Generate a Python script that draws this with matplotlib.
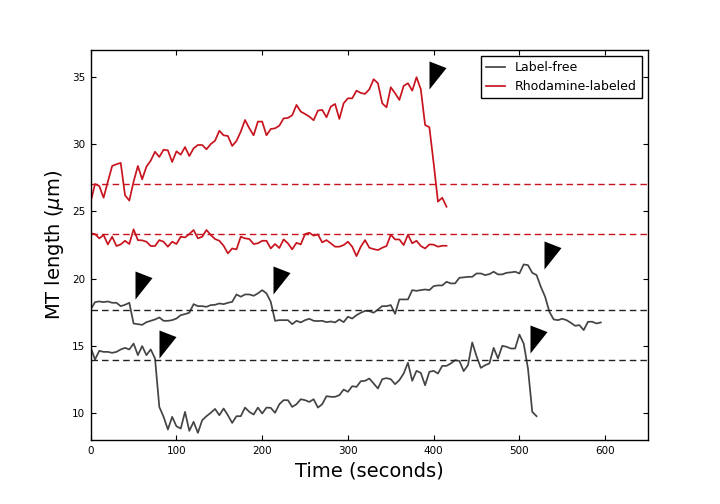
import matplotlib
matplotlib.use("Agg")
import matplotlib.pyplot as plt
from matplotlib.path import Path
import numpy as np

# intervalo entre cuadros (s)
frame_dt = 5

# longitud de los microtubulos (um), una medida por cuadro
rhod_top = [25.71, 27.03, 26.88, 26.01, 27.2, 28.37, 28.5, 28.6, 26.19, 25.8,
            27.2, 28.37, 27.38, 28.32, 28.77, 29.43, 29.04, 29.58, 29.53, 28.67,
            29.46, 29.21, 29.78, 29.11, 29.68, 29.93, 29.93, 29.61, 30.0, 30.25,
            30.99, 30.65, 30.6, 29.86, 30.23, 30.92, 31.79, 31.17, 30.65, 31.67,
            31.67, 30.65, 31.12, 31.17, 31.37, 31.91, 31.94,
            32.14, 32.91, 32.41, 32.24, 32.04, 31.77, 32.49, 32.54, 31.99, 32.78,
            32.98, 31.87, 33.03, 33.4, 33.4, 33.97, 33.8, 33.73, 34.07, 34.82,
            34.52, 33.03, 32.73, 34.22, 33.78, 33.28, 34.32, 34.52, 33.97, 34.97,
            34.07, 31.42, 31.25, 28.57, 25.72, 26.01, 25.34]

rhod_bottom = [23.36, 23.31, 22.99, 23.24, 22.54, 23.11, 22.42, 22.54, 22.81, 22.57,
               23.66, 22.86, 22.84, 22.74, 22.42, 22.42, 22.86, 22.74, 22.37, 22.74,
               22.57, 23.11, 23.06, 23.31, 23.61, 22.99, 23.11, 23.61, 23.24, 22.94,
               22.81, 22.44, 21.87, 22.24, 22.17, 23.11, 22.99, 22.94, 22.57, 22.62,
               22.81, 22.81, 22.24, 22.57, 22.27, 22.91, 22.62,
               22.17, 22.66, 22.54, 23.31, 23.41, 23.19, 23.28, 22.69, 22.86, 22.62,
               22.37, 22.37, 22.49, 22.74, 22.37, 21.67, 22.37, 22.86, 22.29, 22.19,
               22.12, 22.29, 22.42, 23.26, 22.91, 22.91, 22.49, 23.26, 22.62, 22.81,
               22.42, 22.24, 22.54, 22.52, 22.37, 22.44, 22.44]

free_top = [17.7, 18.25, 18.3, 18.25, 18.3, 18.2, 18.2, 17.95, 18.05, 18.2,
            16.66, 16.61, 16.56, 16.76, 16.86, 16.96, 17.11, 16.86, 16.86, 16.91,
            17.03, 17.28, 17.36, 17.46,
            18.1, 17.95, 17.95, 17.9, 18.03, 18.05, 18.15, 18.1, 18.2, 18.27,
            18.82, 18.65, 18.82, 18.82, 18.72, 18.9, 19.14, 18.9, 18.27,
            16.86, 16.91, 16.91, 16.91,
            16.61, 16.86, 16.74, 16.91, 17.01, 16.86, 16.84, 16.86, 16.76, 16.81,
            16.74, 16.96, 16.76, 17.16, 17.03, 17.28, 17.46, 17.6, 17.58, 17.46,
            17.7, 17.95, 17.95, 18.03, 17.38,
            18.45, 18.45, 18.45, 19.14, 19.09, 19.14, 19.19, 19.14, 19.44, 19.49,
            19.49, 19.76, 19.64, 19.64, 20.06,
            20.09, 20.13, 20.13, 20.38, 20.38, 20.26, 20.33, 20.51, 20.31, 20.31,
            20.43, 20.46, 20.51, 20.38, 21.05, 21.0, 20.43, 20.26, 19.39, 18.65,
            17.53, 16.96, 16.91, 17.01, 16.91, 16.71, 16.49, 16.54, 16.17, 16.79,
            16.79, 16.66, 16.74]

free_bottom = [14.88, 13.98, 14.63, 14.55, 14.55, 14.48, 14.55, 14.73, 14.85, 14.73,
               15.17, 14.31, 14.98, 14.31, 14.73, 14.06,
               10.46, 9.72, 8.78, 9.72, 9.02, 8.85, 10.09, 8.68, 9.35, 8.53,
               9.47, 9.77, 10.02, 10.31, 9.84, 10.34, 9.84, 9.27, 9.77, 9.77,
               10.41, 10.09, 9.89, 10.41, 9.97, 10.41, 10.39, 10.02, 10.66, 10.96,
               10.96,
               10.46, 10.66, 11.03, 10.96, 10.83, 11.03, 10.41, 10.66, 11.26, 11.21,
               11.21, 11.33, 11.75, 11.58, 12.0, 11.95, 12.37, 12.4, 12.57, 12.2,
               11.83, 12.52, 12.6, 12.52, 12.15, 12.45, 12.94, 13.74, 12.4, 13.14,
               12.99, 12.07, 13.07, 13.14, 12.94, 13.51, 13.51, 13.69, 13.93, 13.88,
               13.12, 13.56, 15.25, 14.23, 13.36,
               13.56, 13.69, 14.85, 14.06, 15.0, 14.93, 14.8, 14.8, 15.84, 15.17,
               13.32, 10.09, 9.77]

# niveles de referencia (lineas discontinuas)
rhod_levels = [27.05, 23.3]
free_levels = [17.65, 13.95]

# marcas de catastrofe (esquina inferior izquierda del triangulo)
cat_t = [394.2, 51.4, 212.8, 528.8, 79.4, 512.4]
cat_len = [34.08, 18.45, 18.85, 20.68, 14.13, 14.5]

red = '#c8141e'
gray = '#444444'

fig = plt.figure(figsize=(7.2, 5.04), dpi=100)
ax = fig.add_axes([0.126, 0.127, 0.774, 0.774])


def tiempos(serie):
    return np.arange(len(serie)) * frame_dt


ax.plot(tiempos(free_bottom), free_bottom, color=gray, lw=1.25, label='Label-free')
ax.plot(tiempos(free_top), free_top, color=gray, lw=1.25)
ax.plot(tiempos(rhod_bottom), rhod_bottom, color=red, lw=1.25, label='Rhodamine-labeled')
ax.plot(tiempos(rhod_top), rhod_top, color=red, lw=1.25)

for lv in rhod_levels:
    ax.axhline(lv, color=red, lw=1.0, dashes=(4.7, 2.9))
for lv in free_levels:
    ax.axhline(lv, color='#222222', lw=1.0, dashes=(4.7, 2.9))

# triangulo rectangulo apuntando a la derecha
tri = Path([(0, 0), (0, 28), (17, 21.4), (0, 0)],
           [Path.MOVETO, Path.LINETO, Path.LINETO, Path.CLOSEPOLY])
ax.plot(cat_t, cat_len, linestyle='none', marker=tri, markersize=2 * 28 * 72 / 100.0,
        color='black', markeredgewidth=0)

ax.set_xlim(0, 650)
ax.set_ylim(8, 37)
ax.set_xticks([0, 100, 200, 300, 400, 500, 600])
ax.set_yticks([10, 15, 20, 25, 30, 35])
ax.tick_params(direction='in', top=True, right=True, length=3.5, width=0.8,
               labelsize=7.5, pad=4)
for s in ax.spines.values():
    s.set_linewidth(1.0)

ax.set_xlabel('Time (seconds)', fontsize=14)
ax.set_ylabel(r'MT length ($\mu$m)', fontsize=14)

leg = ax.legend(loc='upper right', fontsize=9, fancybox=False, framealpha=1,
                handlelength=1.5, borderaxespad=0.5)
leg.get_frame().set_edgecolor('black')
leg.get_frame().set_linewidth(1.0)

fig.savefig('out.png', dpi=100)
